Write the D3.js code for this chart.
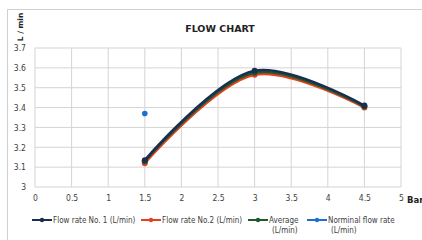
<!DOCTYPE html>
<html>
<head>
<meta charset="utf-8">
<script src="https://cdn.jsdelivr.net/npm/d3@7"></script>
<style>
  body { margin: 0; background: #fff; }
  svg text { font-family: "Liberation Sans Narrow", "DejaVu Sans Condensed", "Liberation Sans", sans-serif; }
</style>
</head>
<body>
<div id="chart"></div>
<script>
// data
var pressure = [1.5, 3, 4.5];
var flow1 = [3.135, 3.585, 3.41];
var flow2 = [3.12, 3.565, 3.40];
var average = [3.13, 3.575, 3.405];
var nominalX = [1.5];
var nominal = [3.37];
var xTicks = [0, 0.5, 1, 1.5, 2, 2.5, 3, 3.5, 4, 4.5, 5];
var yTicks = [3, 3.1, 3.2, 3.3, 3.4, 3.5, 3.6, 3.7];

var svgWidth = 422, svgHeight = 240;
var margin = {top: 48, right: 21, bottom: 53, left: 35};
var width = svgWidth - margin.left - margin.right;
var height = svgHeight - margin.top - margin.bottom;

var svg = d3.select('#chart').append('svg')
    .attr('width', svgWidth).attr('height', svgHeight);

// outer chart frame (cut off on the right)
svg.append('path')
    .attr('d', 'M7.5 240 V9.5 H422')
    .attr('fill', 'none').attr('stroke', '#d0d0d0').attr('stroke-width', 1);

var g = svg.append('g')
    .attr('transform', 'translate(' + margin.left + ' ' + margin.top + ')');

var x = d3.scaleLinear().domain([0, 5]).range([0, width]);
var y = d3.scaleLinear().domain([3, 3.7]).range([height, 0]);

// gridlines
g.append('g').selectAll('line').data(yTicks).enter().append('line')
    .attr('x1', 0).attr('x2', width)
    .attr('y1', function(d) { return y(d); }).attr('y2', function(d) { return y(d); })
    .attr('stroke', '#d4d4d4').attr('stroke-width', 1);
g.append('g').selectAll('line').data(xTicks).enter().append('line')
    .attr('y1', 0).attr('y2', height)
    .attr('x1', function(d) { return x(d); }).attr('x2', function(d) { return x(d); })
    .attr('stroke', '#d4d4d4').attr('stroke-width', 1);

// axes
var xAxis = g.append('g')
    .attr('transform', 'translate(0 ' + height + ')')
    .call(d3.axisBottom(x).tickValues(xTicks).tickSize(0).tickPadding(8).tickFormat(d3.format('')));
var yAxis = g.append('g')
    .call(d3.axisLeft(y).tickValues(yTicks).tickSize(0).tickPadding(9).tickFormat(d3.format('')));
[xAxis, yAxis].forEach(function(a) {
    a.select('.domain').remove();
    a.selectAll('text').attr('font-size', '8.5px').attr('fill', '#404040');
});

// titles
svg.append('text')
    .attr('x', 220).attr('y', 32)
    .attr('text-anchor', 'middle')
    .style('font-family', '"DejaVu Sans", sans-serif')
    .attr('font-weight', 'bold').attr('font-size', '9.5px').attr('fill', '#222')
    .text('FLOW CHART');
svg.append('text')
    .attr('transform', 'translate(23 27) rotate(-90)')
    .attr('text-anchor', 'middle')
    .style('font-family', '"DejaVu Sans", sans-serif')
    .attr('font-weight', 'bold').attr('font-size', '7.5px').attr('fill', '#222')
    .text('L / min');
svg.append('text')
    .attr('x', 407).attr('y', 203)
    .style('font-family', '"DejaVu Sans", sans-serif')
    .attr('font-weight', 'bold').attr('font-size', '8.5px').attr('fill', '#222')
    .text('Bar');

// series
var series = [
    {name: 'Flow rate No.2 (L/min)', values: flow2, colour: '#e8401c'},
    {name: 'Average', values: average, colour: '#1e5a2e'},
    {name: 'Flow rate No. 1 (L/min)', values: flow1, colour: '#1a2f4f'}
];
var line = d3.line()
    .x(function(d) { return x(d[0]); })
    .y(function(d) { return y(d[1]); })
    .curve(d3.curveCatmullRom.alpha(0.5));

series.forEach(function(s) {
    var pts = pressure.map(function(p, i) { return [p, s.values[i]]; });
    g.append('path').datum(pts)
        .attr('d', line)
        .attr('fill', 'none').attr('stroke', s.colour).attr('stroke-width', 2.5);
    g.selectAll(null).data(pts).enter().append('circle')
        .attr('cx', function(d) { return x(d[0]); })
        .attr('cy', function(d) { return y(d[1]); })
        .attr('r', 3).attr('fill', s.colour);
});

g.selectAll(null).data(nominalX).enter().append('circle')
    .attr('cx', function(d) { return x(d); })
    .attr('cy', function(d, i) { return y(nominal[i]); })
    .attr('r', 2.8).attr('fill', '#1f6fd0');

// legend
var legendItems = [
    {lines: ['Flow rate No. 1 (L/min)'], colour: '#1a2f4f', x: 32},
    {lines: ['Flow rate No.2 (L/min)'], colour: '#e8401c', x: 141},
    {lines: ['Average', '(L/min)'], colour: '#1e5a2e', x: 248},
    {lines: ['Norminal flow rate', '(L/min)'], colour: '#1f6fd0', x: 307}
];
var legend = svg.append('g').selectAll('g').data(legendItems).enter().append('g')
    .attr('transform', function(d) { return 'translate(' + d.x + ' 220)'; });
legend.append('line')
    .attr('x1', 0).attr('x2', 20).attr('y1', 0).attr('y2', 0)
    .attr('stroke', function(d) { return d.colour; }).attr('stroke-width', 2);
legend.append('circle')
    .attr('cx', 10).attr('cy', 0).attr('r', 2.2)
    .attr('fill', function(d) { return d.colour; });
legend.each(function(d) {
    var t = d3.select(this).append('text')
        .attr('x', 21).attr('y', 3)
        .attr('font-size', '8px').attr('fill', '#404040');
    d.lines.forEach(function(l, i) {
        t.append('tspan').attr('x', i ? 24 : 21).attr('dy', i ? 10 : 0).text(l);
    });
});
</script>
</body>
</html>
